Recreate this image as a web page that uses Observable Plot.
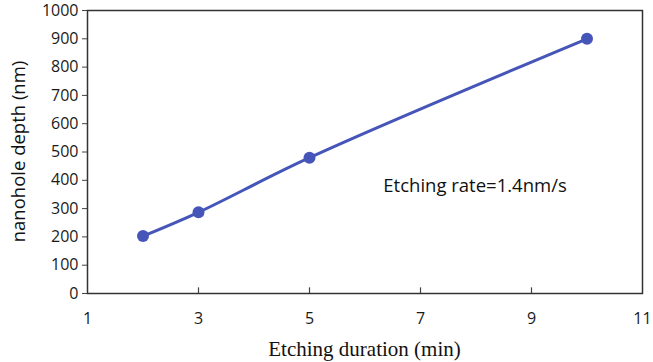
<!DOCTYPE html>
<html>
<head>
<meta charset="utf-8">
<script src="https://cdn.jsdelivr.net/npm/d3@7"></script>
<script src="https://cdn.jsdelivr.net/npm/@observablehq/plot@0.6"></script>
<style>
  html, body { margin: 0; padding: 0; background: #fff; }
</style>
</head>
<body>
<div id="chart"></div>
<script>
const durations = [2, 3, 5, 10];
const depths = [203, 287, 480, 900];
const xTicks = [1, 3, 5, 7, 9, 11];
const yTicks = [0, 100, 200, 300, 400, 500, 600, 700, 800, 900, 1000];
const innerXTicks = [3, 5, 7, 9];
const annotationText = ["Etching rate=1.4nm/s"];
const annotationX = [6.33];
const annotationY = [380];
const xTitle = "Etching duration (min)";
const yTitle = "nanohole depth (nm)";

const data = durations.map((d, i) => ({x: d, y: depths[i]}));
const color = "#4655b8";

const chart = Plot.plot({
  width: 653,
  height: 362,
  marginLeft: 87,
  marginRight: 11,
  marginTop: 10,
  marginBottom: 69,
  style: {background: "#fff", color: "#1a1a1a"},
  x: {domain: [1, 11]},
  y: {domain: [0, 1000]},
  marks: [
    Plot.axisY({ticks: yTicks, tickFormat: d => String(d), tickSize: 5, tickPadding: 4, label: null, fontSize: 16, fontFamily: "Open Sans", stroke: "#444"}),
    Plot.axisX({ticks: xTicks, tickFormat: d => String(d), tickSize: 0, tickPadding: 19, label: null, fontSize: 16, fontFamily: "Open Sans"}),
    Plot.ruleX(innerXTicks, {y1: 0, y2: 20, stroke: "#444", strokeWidth: 1.2}),
    Plot.frame({stroke: "#333", strokeWidth: 1.5}),
    Plot.line(data, {x: "x", y: "y", curve: "catmull-rom", stroke: color, strokeWidth: 3}),
    Plot.dot(data, {x: "x", y: "y", r: 6, fill: color, stroke: "none"}),
    Plot.text(annotationText, {x: annotationX, y: annotationY, text: d => d, textAnchor: "start", fontSize: 18.5, fontFamily: "Open Sans", fill: "#111"})
  ]
});

const svg = d3.select(chart);
svg.append("text")
  .attr("x", 364.5).attr("y", 356)
  .attr("text-anchor", "middle")
  .attr("font-family", "Liberation Serif")
  .attr("font-size", 21)
  .attr("fill", "#111")
  .text(xTitle);
svg.append("text")
  .attr("transform", "translate(25,151.5) rotate(-90)")
  .attr("text-anchor", "middle")
  .attr("font-family", "Open Sans")
  .attr("font-size", 18.5)
  .attr("fill", "#111")
  .text(yTitle);

document.getElementById("chart").appendChild(chart);
</script>
</body>
</html>
